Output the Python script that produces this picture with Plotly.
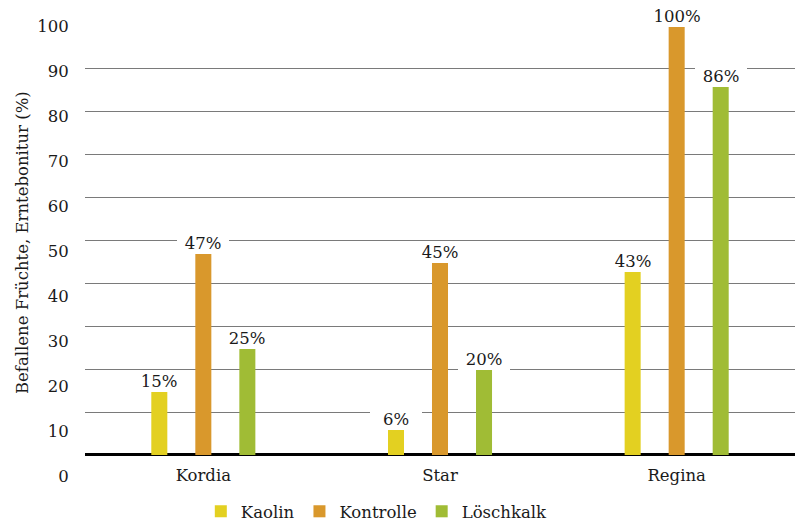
import plotly.graph_objects as go

# Varieties on the x axis and infestation share per treatment (%)
sorten = ["Kordia", "Star", "Regina"]
kaolin = [15, 6, 43]
kontrolle = [47, 45, 100]
loeschkalk = [25, 20, 86]

serien = ["Kaolin", "Kontrolle", "Löschkalk"]
farben = ["#E3D021", "#D9982C", "#A0BC35"]
werte = [kaolin, kontrolle, loeschkalk]

y_ticks = list(range(0, 101, 10))
y_titel = "Befallene Früchte, Erntebonitur (%)"

FONT = "DejaVu Serif"
FS = 16.5
TEXT = "#1a1a1a"

fig = go.Figure()
for name, farbe, vals in zip(serien, farben, werte):
    fig.add_trace(go.Bar(name=name, x=sorten, y=vals, marker_color=farbe,
                         marker_line_width=0, hoverinfo="x+y"))

# helper trace so the label axis is drawn
fig.add_trace(go.Scatter(x=sorten, y=[None] * len(sorten), yaxis="y2",
                         showlegend=False, hoverinfo="skip", mode="markers"))

# value labels on a white box above each bar
annotations = []
for i, vals in enumerate(werte):
    for s, v in zip(sorten, vals):
        annotations.append(dict(
            x=s, y=v, xref="x", yref="y", text=f"{v}%", showarrow=False,
            xshift=(i - 1) * 44, yanchor="bottom", yshift=-1,
            bgcolor="white", width=52, height=21, borderpad=0, borderwidth=0,
            font=dict(family=FONT, size=FS, color=TEXT)))

# y axis title
annotations.append(dict(
    text=y_titel, xref="paper", yref="paper", x=-0.0887, y=0.522,
    xanchor="center", yanchor="middle", textangle=-90, showarrow=False,
    font=dict(family=FONT, size=FS, color=TEXT)))

fig.update_layout(
    width=796, height=522,
    margin=dict(l=85, r=1, t=26, b=42, autoexpand=False),
    paper_bgcolor="white", plot_bgcolor="white",
    barmode="group", bargap=0.442, bargroupgap=0.636,
    font=dict(family=FONT, size=FS, color=TEXT),
    annotations=annotations,
    xaxis=dict(anchor="free", position=0.036, showline=False, showgrid=False,
               zeroline=False, ticks="", tickfont=dict(size=FS, color=TEXT)),
    yaxis=dict(range=[-5.83, 100], tick0=0, dtick=10, showticklabels=False,
               showgrid=True, gridcolor="#7a7a7a", gridwidth=1,
               zeroline=True, zerolinecolor="black", zerolinewidth=3,
               showline=False, ticks=""),
    yaxis2=dict(overlaying="y", side="left", range=[-0.889, 100],
                tickvals=y_ticks, showgrid=False, zeroline=False,
                showline=False, ticks="outside", ticklen=12,
                tickcolor="rgba(0,0,0,0)",
                tickfont=dict(size=FS, color=TEXT)),
    legend=dict(orientation="h", x=0.411, xanchor="center",
                y=-0.031, yanchor="top",
                font=dict(size=FS, color=TEXT),
                itemwidth=30, traceorder="normal"),
    showlegend=True,
)

fig.write_html("out.html")
